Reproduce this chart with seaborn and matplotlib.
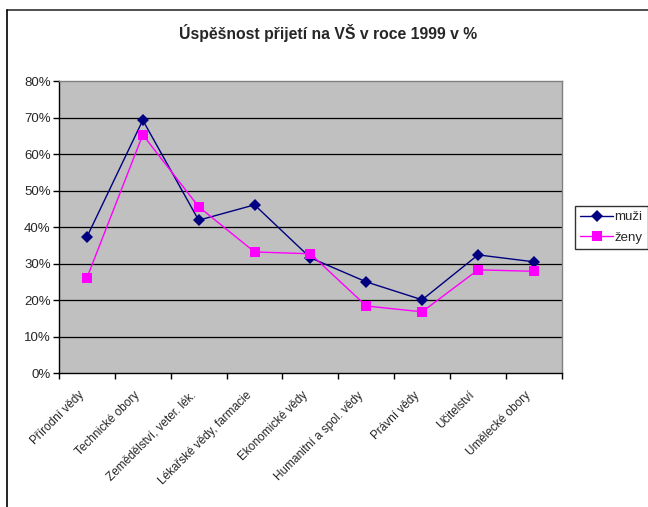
import seaborn as sns
import matplotlib.pyplot as plt
import matplotlib.transforms as mtransforms
import pandas as pd
from matplotlib.lines import Line2D

categories = ['Přírodní vědy', 'Technické obory', 'Zemědělství, veter. lék.',
              'Lékařské vědy, farmacie', 'Ekonomické vědy', 'Humanitní a spol. vědy',
              'Právní vědy', 'Učitelství', 'Umělecké obory']
muzi = [37.3, 69.3, 41.9, 46.1, 31.6, 25.0, 20.1, 32.4, 30.5]
zeny = [26.1, 65.3, 45.6, 33.2, 32.7, 18.4, 16.8, 28.3, 27.9]
yticks = [0, 10, 20, 30, 40, 50, 60, 70, 80]

sns.set_style('white')
plt.rcParams['font.family'] = ['Liberation Sans', 'DejaVu Sans']

df = pd.DataFrame({
    'pos': list(range(len(categories))) * 2,
    'value': muzi + zeny,
    'series': ['muži'] * len(muzi) + ['ženy'] * len(zeny),
})

fig = plt.figure(figsize=(6.48, 5.07), dpi=100)
ax = fig.add_axes([0.091, 0.264, 0.776, 0.576])
ax.set_facecolor('#c0c0c0')

sns.lineplot(data=df, x='pos', y='value', hue='series', style='series',
             palette={'muži': '#000080', 'ženy': '#ff00ff'},
             markers={'muži': 'D', 'ženy': 's'}, dashes=False,
             markersize=6.5, markeredgewidth=0, linewidth=1, sort=False,
             legend=False, ax=ax)

ax.set_xlim(-0.5, len(categories) - 0.5)
ax.set_ylim(0, 80)
ax.set_yticks(yticks)
ax.set_yticklabels([f'{v}%' for v in yticks], fontsize=9.5)
for v in yticks[1:-1]:
    ax.axhline(v, color='black', linewidth=0.9, zorder=0.5)

ax.set_xticks(range(len(categories)))
ax.set_xticklabels(categories, rotation=45, ha='right', rotation_mode='anchor', fontsize=8.5)
ax.set_xticks([i - 0.5 for i in range(len(categories) + 1)], minor=True)
ax.tick_params(axis='x', which='major', length=0, pad=8)
ax.tick_params(axis='x', which='minor', length=4, width=1, color='black', direction='out', bottom=True)
ax.tick_params(axis='y', length=4, width=1, color='black', direction='out', left=True, pad=2)
ax.set_xlabel('')
ax.set_ylabel('')

# Excel places the rotated labels a bit left of the category centre
shift = mtransforms.ScaledTranslation(-0.09, -0.05, fig.dpi_scale_trans)
for lab in ax.xaxis.get_majorticklabels():
    lab.set_transform(lab.get_transform() + shift)

for side in ['top', 'right']:
    ax.spines[side].set_color('#808080')
    ax.spines[side].set_linewidth(1)
for side in ['left', 'bottom']:
    ax.spines[side].set_color('black')
    ax.spines[side].set_linewidth(1)

fig.text(0.506, 0.935, 'Úspěšnost přijetí na VŠ v roce 1999 v %', fontsize=11.3,
         fontweight='bold', ha='center', va='center')

handles = [Line2D([], [], color='#000080', marker='D', markersize=6.5, markeredgewidth=0, linewidth=1),
           Line2D([], [], color='#ff00ff', marker='s', markersize=7, markeredgewidth=0, linewidth=1)]
leg = fig.legend(handles, ['muži', 'ženy'], loc='upper left',
                 bbox_to_anchor=(0.887, 0.594), fontsize=9.5, frameon=True,
                 fancybox=False, edgecolor='black', handlelength=2.5,
                 handletextpad=0.1, borderpad=0.4, labelspacing=0.6,
                 borderaxespad=0)
leg.get_frame().set_linewidth(1)

fig.add_artist(Line2D([0.011, 1.0], [0.980, 0.980], color='#303030', linewidth=1.2,
                      transform=fig.transFigure))
fig.add_artist(Line2D([0.011, 0.011], [0.0, 0.980], color='black', linewidth=1.2,
                      transform=fig.transFigure))

fig.savefig('out.png', dpi=100)
